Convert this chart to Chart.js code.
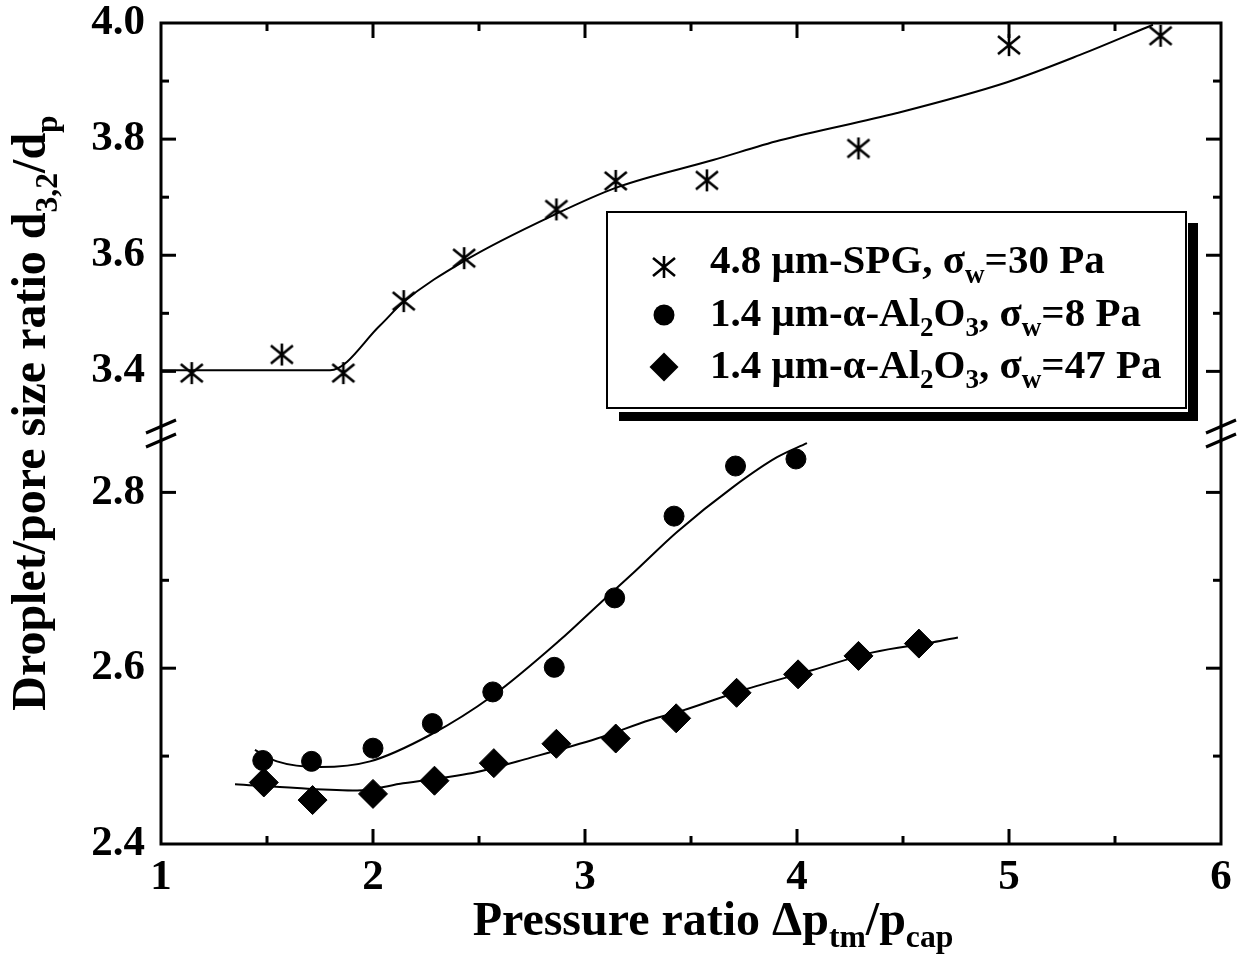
<!DOCTYPE html>
<html><head><meta charset="utf-8">
<script src="https://cdn.jsdelivr.net/npm/chart.js@4.4.1/dist/chart.umd.min.js"></script>
<style>html,body{margin:0;padding:0;background:#fff;}#wrap{width:1243px;height:969px;}</style>
</head><body><div id="wrap"><canvas id="c" width="1243" height="969"></canvas></div>
<script>
const FONT = '"Liberation Serif","Times New Roman",serif';

// ---- data ----
const spgX = [1.145, 1.57, 1.86, 2.145, 2.43, 2.865, 3.145, 3.575, 4.29, 5.0, 5.715];
const spgY = [3.397, 3.429, 3.397, 3.521, 3.595, 3.679, 3.728, 3.729, 3.784, 3.962, 3.978];
const spgFitX = [1.0, 1.797, 2.033, 2.142, 2.434, 2.868, 3.151, 3.604, 3.92, 4.472, 4.991, 5.335, 5.679];
const spgFitY = [3.402, 3.402, 3.479, 3.519, 3.591, 3.672, 3.717, 3.764, 3.798, 3.845, 3.898, 3.945, 3.997];

const al8X = [1.48, 1.71, 2.0, 2.28, 2.565, 2.855, 3.14, 3.42, 3.71, 3.995];
const al8Y = [2.495, 2.494, 2.509, 2.537, 2.573, 2.601, 2.68, 2.773, 2.83, 2.838];
const al8FitX = [1.443, 1.547, 1.75, 1.986, 2.269, 2.566, 2.882, 3.071, 3.226, 3.434, 3.698, 3.906, 4.047];
const al8FitY = [2.507, 2.494, 2.4875, 2.494, 2.524, 2.569, 2.632, 2.674, 2.708, 2.755, 2.806, 2.84, 2.856];

const al47X = [1.485, 1.715, 2.0, 2.29, 2.57, 2.865, 3.145, 3.43, 3.715, 4.005, 4.29, 4.575];
const al47Y = [2.47, 2.45, 2.457, 2.472, 2.492, 2.514, 2.52, 2.543, 2.572, 2.593, 2.614, 2.628];
const al47FitX = [1.349, 1.642, 1.925, 2.142, 2.491, 2.741, 3.057, 3.307, 3.462, 3.745, 4.075, 4.358, 4.642, 4.759];
const al47FitY = [2.468, 2.4636, 2.461, 2.469, 2.482, 2.498, 2.52, 2.541, 2.552, 2.575, 2.598, 2.618, 2.6295, 2.635];

// axis ranges (broken y axis: lower and upper parts)
const xRange = [1, 6];
const yLowRange = [2.4, 2.867];
const yHighRange = [3.293, 4.0];

// texts
const xTitle = [['Pressure ratio Δp', 0], ['tm', 1], ['/p', 0], ['cap', 1]];
const yTitle = [['Droplet/pore size ratio d', 0], ['3,2', 1], ['/d', 0], ['p', 1]];
const legendLabels = [
  [['4.8 μm-SPG, σ', 0], ['w', 1], ['=30 Pa', 0]],
  [['1.4 μm-α-Al', 0], ['2', 1], ['O', 0], ['3', 1], [', σ', 0], ['w', 1], ['=8 Pa', 0]],
  [['1.4 μm-α-Al', 0], ['2', 1], ['O', 0], ['3', 1], [', σ', 0], ['w', 1], ['=47 Pa', 0]]
];

const pts = (xs, ys) => xs.map((x, i) => ({x: x, y: ys[i]}));

const asterisk = (function () {
  const c = document.createElement('canvas');
  c.width = 28; c.height = 28;
  const g = c.getContext('2d');
  g.strokeStyle = '#000'; g.lineWidth = 2.6;
  g.beginPath();
  g.moveTo(14, 3); g.lineTo(14, 25);
  g.moveTo(3, 5); g.lineTo(25, 23);
  g.moveTo(3, 23); g.lineTo(25, 5);
  g.stroke();
  return c;
})();

function rich(ctx, segs, x, y, size, measureOnly) {
  let w = 0;
  segs.forEach(([t, sub]) => {
    const fs = sub ? size * 0.66 : size;
    ctx.font = 'bold ' + fs + 'px ' + FONT;
    if (!measureOnly) ctx.fillText(t, x + w, y + (sub ? size * 0.24 : 0));
    w += ctx.measureText(t).width;
  });
  return w;
}

function line(ctx, x1, y1, x2, y2) {
  ctx.beginPath(); ctx.moveTo(x1, y1); ctx.lineTo(x2, y2); ctx.stroke();
}

const decor = {
  id: 'decor',
  afterDraw(chart) {
    const ctx = chart.ctx, a = chart.chartArea;
    const sx = chart.scales.x, sl = chart.scales.y, su = chart.scales.yTop;
    ctx.save();
    ctx.strokeStyle = '#000'; ctx.fillStyle = '#000'; ctx.lineCap = 'butt';
    ctx.lineWidth = 3;
    ctx.strokeRect(a.left, a.top, a.right - a.left, a.bottom - a.top);
    // x ticks (inward, top & bottom)
    sx.ticks.forEach(t => {
      const v = t.value;
      if (v <= sx.min + 1e-9 || v >= sx.max - 1e-9) return;
      const p = sx.getPixelForValue(v);
      const len = Math.abs(v - Math.round(v)) < 1e-6 ? 15 : 8;
      line(ctx, p, a.bottom, p, a.bottom - len);
      line(ctx, p, a.top, p, a.top + len);
    });
    // y ticks (inward, left & right)
    [sl, su].forEach(s => s.ticks.forEach(t => {
      const v = t.value;
      if (Math.abs(v - s.min) < 1e-6 || Math.abs(v - s.max) < 1e-6) return;
      const p = s.getPixelForValue(v);
      const len = Math.round(v * 10) % 2 === 0 ? 15 : 8;
      line(ctx, a.left, p, a.left + len, p);
      line(ctx, a.right, p, a.right - len, p);
    }));
    // axis break marks
    const yb = sl.top;
    [a.left, a.right].forEach(x0 => {
      [-7, 7].forEach(d => line(ctx, x0 - 15, yb + d + 6.5, x0 + 15, yb + d - 6.5));
    });
    // axis titles
    ctx.textAlign = 'left'; ctx.textBaseline = 'alphabetic';
    const xs = 48;
    const wx = rich(ctx, xTitle, 0, 0, xs, true);
    rich(ctx, xTitle, 713 - wx / 2, 935, xs, false);
    ctx.save();
    ctx.translate(45, 413);
    ctx.rotate(-Math.PI / 2);
    const wy = rich(ctx, yTitle, 0, 0, xs, true);
    rich(ctx, yTitle, -wy / 2, 0, xs, false);
    ctx.restore();
    // legend
    const L = 607, T = 212, R = 1186, B = 408;
    ctx.fillRect(R + 2, T + 11, 10, B - T + 2);
    ctx.fillRect(L + 12, B + 4, R - L + 0, 9);
    ctx.fillStyle = '#fff';
    ctx.fillRect(L, T, R - L, B - T);
    ctx.fillStyle = '#000';
    ctx.lineWidth = 2;
    ctx.strokeRect(L, T, R - L, B - T);
    const mx = 664, rows = [267, 315, 367], bases = [273, 326, 378];
    ctx.drawImage(asterisk, mx - asterisk.width / 2, rows[0] - asterisk.height / 2);
    ctx.beginPath(); ctx.arc(mx, rows[1], 10.5, 0, Math.PI * 2); ctx.fill();
    ctx.beginPath();
    ctx.moveTo(mx - 14.5, rows[2]); ctx.lineTo(mx, rows[2] - 14.5);
    ctx.lineTo(mx + 14.5, rows[2]); ctx.lineTo(mx, rows[2] + 14.5); ctx.closePath(); ctx.fill();
    legendLabels.forEach((segs, i) => rich(ctx, segs, 710, bases[i], 41, false));
    ctx.restore();
  }
};

const tickFont = {family: FONT, size: 43, weight: 'bold', lineHeight: 1.0};
const yTicks = {
  stepSize: 0.1, includeBounds: false, autoSkip: false, padding: 16, color: '#000', font: tickFont,
  callback: v => { const k = Math.round(v * 10); return k % 2 === 0 ? (k / 10).toFixed(1) : ''; }
};
const yFit = s => { s.width = 161; s.paddingTop = 0; s.paddingBottom = 0; };

new Chart(document.getElementById('c'), {
  type: 'scatter',
  data: {
    datasets: [
      {data: pts(spgFitX, spgFitY), yAxisID: 'yTop', showLine: true, pointRadius: 0, borderColor: '#000', borderWidth: 2, cubicInterpolationMode: 'monotone'},
      {data: pts(al8FitX, al8FitY), yAxisID: 'y', showLine: true, pointRadius: 0, borderColor: '#000', borderWidth: 2, cubicInterpolationMode: 'monotone'},
      {data: pts(al47FitX, al47FitY), yAxisID: 'y', showLine: true, pointRadius: 0, borderColor: '#000', borderWidth: 2, cubicInterpolationMode: 'monotone'},
      {data: pts(spgX, spgY), yAxisID: 'yTop', pointStyle: asterisk, pointRadius: 11, clip: false},
      {data: pts(al8X, al8Y), yAxisID: 'y', pointStyle: 'circle', pointRadius: 10, borderWidth: 1, backgroundColor: '#000', borderColor: '#000', clip: false},
      {data: pts(al47X, al47Y), yAxisID: 'y', pointStyle: 'rectRot', pointRadius: 14.5, borderWidth: 1, backgroundColor: '#000', borderColor: '#000', clip: false}
    ]
  },
  options: {
    responsive: false, animation: false, events: [],
    layout: {padding: {top: 23, right: 22, left: 0, bottom: 0}},
    plugins: {legend: {display: false}, tooltip: {enabled: false}},
    scales: {
      x: {
        type: 'linear', position: 'bottom', min: xRange[0], max: xRange[1],
        grid: {display: false, drawTicks: false}, border: {display: false},
        ticks: {stepSize: 0.5, autoSkip: false, maxRotation: 0, padding: 12, color: '#000', font: tickFont,
          callback: v => Math.abs(v - Math.round(v)) < 1e-6 ? String(Math.round(v)) : ''},
        afterFit: s => { s.height = 125; s.paddingLeft = 0; s.paddingRight = 0; }
      },
      y: {
        type: 'linear', position: 'left', stack: 'yy', stackWeight: 1, min: yLowRange[0], max: yLowRange[1],
        grid: {display: false, drawTicks: false}, border: {display: false}, ticks: yTicks,
        afterFit: yFit
      },
      yTop: {
        type: 'linear', position: 'left', stack: 'yy', stackWeight: 1, min: yHighRange[0], max: yHighRange[1],
        grid: {display: false, drawTicks: false}, border: {display: false}, ticks: yTicks,
        afterBuildTicks: s => { s.ticks = s.ticks.filter(t => t.value > 3.35); },
        afterFit: yFit
      }
    }
  },
  plugins: [decor]
});
</script>
</body></html>
